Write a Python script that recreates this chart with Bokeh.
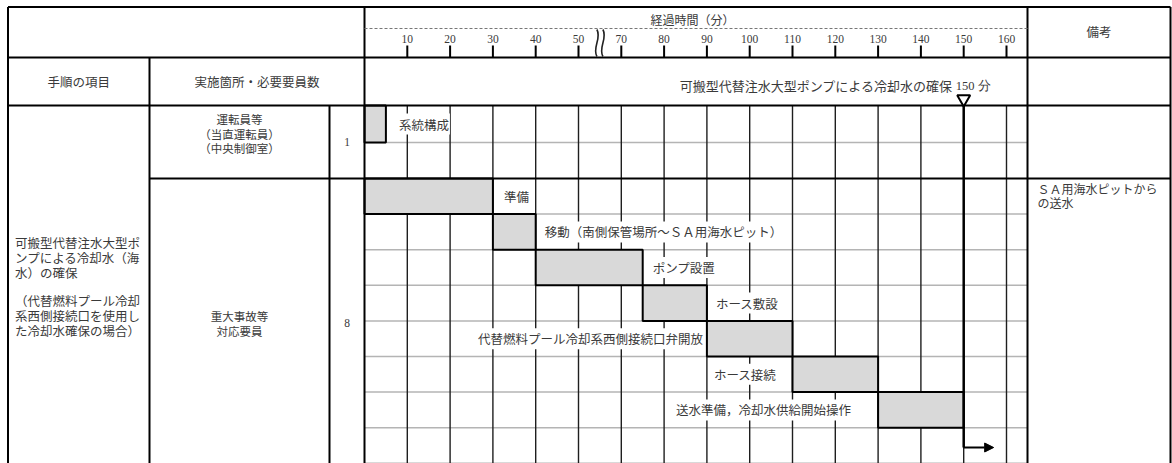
from bokeh.plotting import figure
from bokeh.models import Range1d, Arrow, NormalHead
from bokeh.core.properties import value
from bokeh.embed import file_html
from bokeh.resources import INLINE

# ---------------- data ----------------
tick_minutes = [10, 20, 30, 40, 50, 70, 80, 90, 100, 110, 120, 130, 140, 150, 160]
tick_labels = [str(m) for m in tick_minutes]

task_names = [
    "系統構成",
    "準備",
    "移動（南側保管場所～ＳＡ用海水ピット）",
    "ポンプ設置",
    "ホース敷設",
    "代替燃料プール冷却系西側接続口弁開放",
    "ホース接続",
    "送水準備，冷却水供給開始操作",
]
task_start_min = [0, 0, 30, 40, 75, 90, 110, 130]
task_end_min = [5, 30, 40, 75, 90, 110, 130, 150]
task_row = [0, 2, 3, 4, 5, 6, 7, 8]
task_label_side = ["right", "right", "right", "right", "right", "left", "left", "left"]

milestone_min = 150
milestone_text = "150 分"
goal_text = "可搬型代替注水大型ポンプによる冷却水の確保"

item_lines_a = ["可搬型代替注水大型ポ", "ンプによる冷却水（海", "水）の確保"]
item_lines_b = [" （代替燃料プール冷却", "系西側接続口を使用し", "た冷却水確保の場合）"]
crew_lines = [["運転員等", "（当直運転員）", "（中央制御室）"], ["重大事故等", "対応要員"]]
crew_counts = ["1", "8"]
remark_lines = ["ＳＡ用海水ピットから", "の送水"]

header_item = "手順の項目"
header_place = "実施箇所・必要要員数"
header_time = "経過時間（分）"
header_note = "備考"

# ---------------- layout helpers ----------------
SLOT0 = 364.0      # pixel of time 0
SLOT_W = 42.8      # pixels per 10 minutes
W, H = 1172, 463


def px(v):
    return (v - SLOT0) / SLOT_W


def to_slot(m):
    # time axis with a break: 60 min is skipped
    return m / 10.0 if m <= 55 else (m - 10) / 10.0


X_L = px(7.5)
X_C1 = px(149)
X_C2 = px(329)
X_T0 = 0.0
X_T1 = px(1027)
X_R = px(1170)

Y_TOP = 6.5
Y_H1 = 57
Y_H2 = 105
Y_BOT = 463
row_edges = [105, 142, 178] + [178 + 35.6 * i for i in range(1, 9)]
row_top = row_edges[:-1]
row_bot = row_edges[1:]

TEXT = "#3a3a3a"
CJK = value("Noto Sans CJK JP")
SERIF = value("Liberation Serif")

p = figure(width=W, height=H, x_range=Range1d(px(0), px(W)),
           y_range=Range1d(H, 0), output_backend="svg", toolbar_location=None,
           min_border=0, min_border_left=0, min_border_right=0,
           min_border_top=0, min_border_bottom=0)
p.axis.visible = False
p.grid.visible = False
p.outline_line_color = None
p.background_fill_color = "white"
p.border_fill_color = "white"

# ---------------- grid inside the time area ----------------
gray_y = [y for y in row_edges[1:] if y not in (178,)]
p.segment(x0=[X_T0] * len(gray_y), x1=[X_T1] * len(gray_y), y0=gray_y, y1=gray_y,
          line_color="#b4b4b4", line_width=1.5)
tick_x = [to_slot(m) for m in tick_minutes]
p.segment(x0=tick_x, x1=tick_x, y0=[Y_H2] * len(tick_x), y1=[Y_BOT] * len(tick_x),
          line_color="#1e1e1e", line_width=1.4)

# ---------------- task labels ----------------
label_gap = [12, 10, 8, 9, 8, 3, 15, 26]
for name, s, e, r, side, gap in zip(task_names, task_start_min, task_end_min,
                                    task_row, task_label_side, label_gap):
    yc = (row_top[r] + row_bot[r]) / 2
    if side == "right":
        x, dx, al = to_slot(e), gap, "left"
    else:
        x, dx, al = to_slot(s), -gap, "right"
    p.text(x=[x], y=[yc], text=[name], x_offset=dx, text_align=al,
           text_baseline="middle", text_font=CJK, text_font_size="12.5px",
           text_color=TEXT, background_fill_color="white", padding=1)

# ---------------- bars ----------------
p.quad(left=[to_slot(m) for m in task_start_min],
       right=[to_slot(m) for m in task_end_min],
       top=[row_top[r] for r in task_row],
       bottom=[row_bot[r] for r in task_row],
       fill_color="#d9d9d9", line_color="black", line_width=2)

# ---------------- table borders ----------------
hx0 = [X_L, X_L, X_L, X_C1]
hx1 = [X_R, X_R, X_R, X_R]
hy = [Y_TOP, Y_H1, Y_H2, 178]
p.segment(x0=hx0, x1=hx1, y0=hy, y1=hy, line_color="black", line_width=2)
vx = [X_L, X_C1, X_C2, X_T0, X_T1, X_R]
vy0 = [Y_TOP, Y_H1, Y_H2, Y_TOP, Y_TOP, Y_TOP]
p.segment(x0=vx, x1=vx, y0=vy0, y1=[Y_BOT] * len(vx), line_color="black", line_width=2)

# ---------------- time header ----------------
p.segment(x0=[X_T0], x1=[X_T1], y0=[28], y1=[28], line_color="#777777",
          line_width=1.2, line_dash="3 2")
p.segment(x0=tick_x, x1=tick_x, y0=[45] * len(tick_x), y1=[Y_H1] * len(tick_x),
          line_color="black", line_width=2)
p.text(x=tick_x, y=[38] * len(tick_x), text=tick_labels, text_align="center",
       text_baseline="middle", text_font=SERIF, text_font_size="11.5px", text_color=TEXT)
brk = (to_slot(50) + to_slot(70)) / 2
d = 5 / SLOT_W
for off in (-3 / SLOT_W, 3 / SLOT_W):
    xb = brk + off
    p.bezier(x0=[xb], y0=[29], x1=[xb], y1=[56], cx0=[xb + d], cy0=[38],
             cx1=[xb - d], cy1=[47], line_color="#222222", line_width=1.6)
p.text(x=[px(692)], y=[19], text=[header_time],
       text_align="center", text_baseline="middle", text_font=CJK,
       text_font_size="12px", text_color=TEXT)

# ---------------- header texts ----------------
p.text(x=[(X_L + X_C1) / 2], y=[81], text=[header_item], text_align="center",
       text_baseline="middle", text_font=CJK, text_font_size="12.5px", text_color=TEXT)
p.text(x=[(X_C1 + X_T0) / 2], y=[81], text=[header_place], text_align="center",
       text_baseline="middle", text_font=CJK, text_font_size="12.5px", text_color=TEXT)
p.text(x=[(X_T1 + X_R) / 2], y=[31], text=[header_note], text_align="center",
       text_baseline="middle", text_font=CJK, text_font_size="12.5px", text_color=TEXT)

# goal / milestone
xm = to_slot(milestone_min)
p.text(x=[xm], y=[85], text=[goal_text], x_offset=-11, text_align="right",
       text_baseline="middle", text_font=CJK, text_font_size="13px", text_color=TEXT)
p.text(x=[xm], y=[85], text=[milestone_text], x_offset=-8, text_align="left",
       text_baseline="middle", text_font=SERIF, text_font_size="12.5px", text_color=TEXT)
p.segment(x0=[xm], x1=[xm], y0=[100], y1=[447], line_color="black", line_width=2.5)
p.scatter(x=[xm], y=[98.5], marker="inverted_triangle", size=13,
          fill_color="white", line_color="black", line_width=2)
p.add_layout(Arrow(end=NormalHead(size=9, fill_color="black", line_color="black"),
                   x_start=xm, y_start=447, x_end=xm + 0.7, y_end=447,
                   line_color="black", line_width=2))

# ---------------- left columns ----------------
p.text(x=[X_L] * 3, y=[242, 257, 272], text=item_lines_a, x_offset=7,
       text_align="left", text_baseline="middle", text_font=CJK,
       text_font_size="12.5px", text_color=TEXT)
p.text(x=[X_L] * 3, y=[300, 315, 330], text=item_lines_b, x_offset=7,
       text_align="left", text_baseline="middle", text_font=CJK,
       text_font_size="12.5px", text_color=TEXT)

crew_centers = [[118, 133, 147], [315, 330]]
count_y = [141, 322]
xc2 = (X_C1 + X_C2) / 2
for lines, ys in zip(crew_lines, crew_centers):
    p.text(x=[xc2] * len(lines), y=ys, text=lines, text_align="center",
           text_baseline="middle", text_font=CJK, text_font_size="11.5px", text_color=TEXT)
p.text(x=[(X_C2 + X_T0) / 2] * 2, y=count_y, text=crew_counts, text_align="center",
       text_baseline="middle", text_font=SERIF, text_font_size="11.5px", text_color=TEXT)

# ---------------- remarks ----------------
p.text(x=[X_T1] * 2, y=[188, 202], text=remark_lines, x_offset=10, text_align="left",
       text_baseline="middle", text_font=CJK, text_font_size="12px", text_color=TEXT)

open("out.html", "w").write(file_html(p, INLINE))
